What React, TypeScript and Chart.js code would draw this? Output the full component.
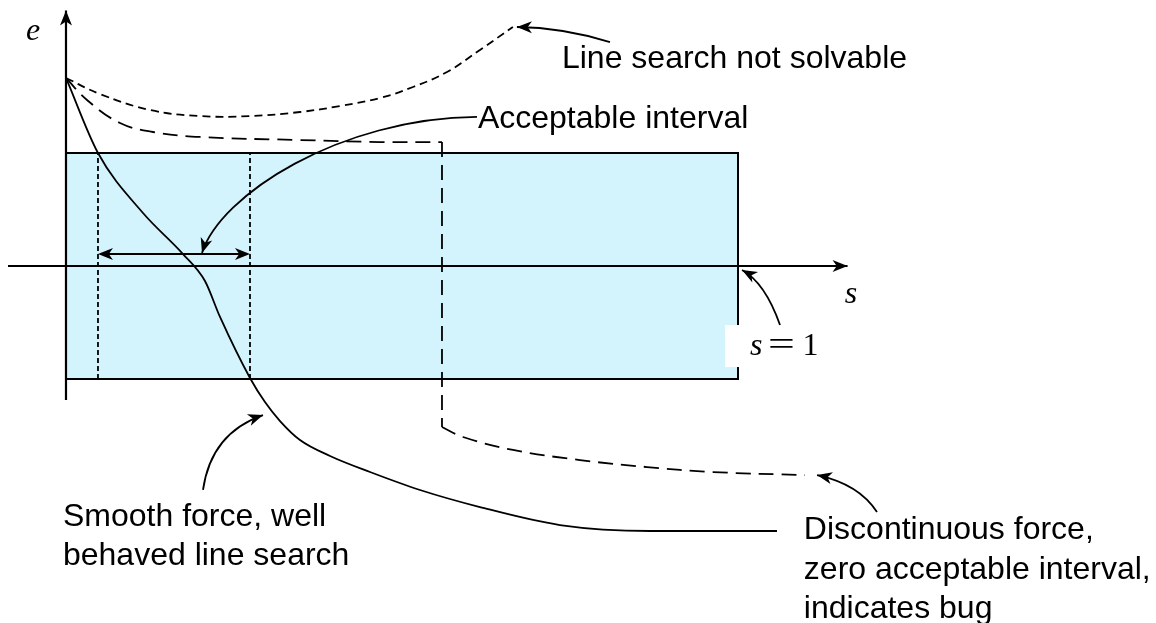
import React, { useEffect, useRef } from "react";
import { Chart, registerables } from "chart.js";

Chart.register(...registerables);

// ---- value ranges of the two axes (s = step length, e = energy) ----
const sBounds = [-0.0982, 1.622];
const eBounds = [-3.159, 2.354];

// ---- axes drawn as arrows ----
const sAxisS = [-0.0863, 1.163];
const sAxisE = [0, 0];
const eAxisS = [0, 0];
const eAxisE = [-1.186, 2.26];

// ---- acceptable region (rectangle) ----
const boxS = [0, 0, 1, 1, 0];
const boxE = [-1, 1, 1, -1, -1];
const boxFillS = [0, 1];
const boxFillE = [1, 1];
const boxFloor = -1;

// ---- acceptable interval bounds ----
const intervalLow = 0.0476;
const intervalHigh = 0.2738;
const intervalLevel = 0.106;

// ---- smooth force curve (solid) ----
const smoothS = [0, 0.0476, 0.1146, 0.1741, 0.2068, 0.2292, 0.2738, 0.2961, 0.3185, 0.3482, 0.3929, 0.4524, 0.5268, 0.616, 0.735, 0.869, 1.058];
const smoothE = [1.664, 1.0, 0.469, 0.106, -0.133, -0.451, -0.991, -1.204, -1.372, -1.54, -1.681, -1.823, -1.982, -2.133, -2.292, -2.345, -2.345];

// ---- line search not solvable (short dashes) ----
const unsolvS = [0, 0.0506, 0.125, 0.1994, 0.2738, 0.3482, 0.4077, 0.4673, 0.5164, 0.567, 0.616, 0.665];
const unsolvE = [1.664, 1.522, 1.381, 1.327, 1.327, 1.363, 1.416, 1.487, 1.584, 1.717, 1.912, 2.115];

// ---- discontinuous force (long dashes) ----
const discUpperS = [0, 0.03125, 0.0804, 0.1295, 0.1994, 0.3482, 0.4673, 0.5595];
const discUpperE = [1.664, 1.469, 1.265, 1.186, 1.142, 1.115, 1.097, 1.097];
const discJumpS = [0.5595, 0.5595];
const discJumpE = [1.097, -1.425];
const discLowerS = [0.5595, 0.5908, 0.6652, 0.7649, 0.8646, 0.9628, 1.0997];
const discLowerE = [-1.425, -1.513, -1.628, -1.717, -1.779, -1.823, -1.85];

// ---- labels ----
const labelUnsolvable = ["Line search not solvable"];
const labelAcceptable = ["Acceptable interval"];
const labelSmooth = ["Smooth force, well", "behaved line search"];
const labelDisc = ["Discontinuous force,", "zero acceptable interval,", "indicates bug"];
const labelSAxis = "s";
const labelEAxis = "e";
const labelSOne = ["s", "=", "1"];

const pts = (xs: number[], ys: number[]) => xs.map((x, i) => ({ x, y: ys[i] }));

const SANS = '"Liberation Sans", Arial, Helvetica, sans-serif';
const SERIF = '"Liberation Serif", "Times New Roman", serif';

function head(ctx: CanvasRenderingContext2D, tx: number, ty: number, ang: number, len = 14, hw = 5.5) {
  ctx.save();
  ctx.translate(tx, ty);
  ctx.rotate(ang);
  ctx.beginPath();
  ctx.moveTo(0, 0);
  ctx.lineTo(-len, -hw);
  ctx.lineTo(-len * 0.72, 0);
  ctx.lineTo(-len, hw);
  ctx.closePath();
  ctx.fill();
  ctx.restore();
}

const annotations = {
  id: "annotations",
  afterDatasetsDraw(chart: any) {
    const { ctx } = chart;
    const xs = chart.scales.x;
    const ys = chart.scales.y;
    const X = (v: number) => xs.getPixelForValue(v);
    const Y = (v: number) => ys.getPixelForValue(v);
    ctx.save();
    ctx.fillStyle = "#000";
    ctx.strokeStyle = "#000";

    // axis arrow heads
    head(ctx, X(sAxisS[1]), Y(0), 0, 15, 6);
    head(ctx, X(0), Y(eAxisE[1]), -Math.PI / 2, 15, 6);

    // double arrow for acceptable interval
    ctx.lineWidth = 2;
    ctx.beginPath();
    ctx.moveTo(X(intervalLow) + 6, Y(intervalLevel));
    ctx.lineTo(X(intervalHigh) - 6, Y(intervalLevel));
    ctx.stroke();
    head(ctx, X(intervalLow), Y(intervalLevel), Math.PI, 15, 6);
    head(ctx, X(intervalHigh), Y(intervalLevel), 0, 15, 6);

    // white box behind "s = 1"
    ctx.fillStyle = "#fff";
    ctx.fillRect(X(0.9807), Y(-0.522), X(1.125) - X(0.9807), Y(-0.894) - Y(-0.522));
    ctx.fillStyle = "#000";

    // quadratic annotation arrows: [tail, control, tip]
    const quad = (p: number[][]) => {
      const [a, c, b] = p.map(([s, e]) => [X(s), Y(e)]);
      ctx.lineWidth = 1.8;
      ctx.beginPath();
      ctx.moveTo(a[0], a[1]);
      ctx.quadraticCurveTo(c[0], c[1], b[0], b[1]);
      ctx.stroke();
      head(ctx, b[0], b[1], Math.atan2(b[1] - c[1], b[0] - c[0]), 15, 6);
    };
    quad([[0.8095, 1.982], [0.738, 2.111], [0.671, 2.115]]);
    quad([[1.0625, -0.522], [1.0402, -0.146], [1.006, -0.035]]);
    quad([[0.2039, -1.982], [0.2158, -1.478], [0.2932, -1.319]]);
    quad([[1.2068, -2.177], [1.18, -1.929], [1.1176, -1.85]]);

    // cubic arrow for acceptable interval
    {
      const p = [[0.6116, 1.319], [0.4077, 1.31], [0.2292, 0.628], [0.2024, 0.115]].map(([s, e]) => [X(s), Y(e)]);
      ctx.lineWidth = 1.8;
      ctx.beginPath();
      ctx.moveTo(p[0][0], p[0][1]);
      ctx.bezierCurveTo(p[1][0], p[1][1], p[2][0], p[2][1], p[3][0], p[3][1]);
      ctx.stroke();
      head(ctx, p[3][0], p[3][1], Math.atan2(p[3][1] - p[2][1], p[3][0] - p[2][0]), 15, 6);
    }

    // sans labels
    ctx.font = `32px ${SANS}`;
    ctx.textAlign = "left";
    ctx.textBaseline = "alphabetic";
    const lines = (arr: string[], s: number, e0: number, de: number) =>
      arr.forEach((t, i) => ctx.fillText(t, X(s), Y(e0 - i * de)));
    lines(labelUnsolvable, 0.738, 1.752, 0);
    lines(labelAcceptable, 0.613, 1.221, 0);
    lines(labelSmooth, -0.0045, -2.301, 0.345);
    lines(labelDisc, 1.098, -2.416, 0.35);

    // math labels
    ctx.font = `italic 32px ${SERIF}`;
    ctx.textAlign = "center";
    ctx.fillText(labelSAxis, X(1.168), Y(-0.33));
    ctx.fillText(labelEAxis, X(-0.049), Y(2.0));
    ctx.textAlign = "left";
    ctx.fillText(labelSOne[0], X(1.018), Y(-0.788));
    ctx.save();
    ctx.translate(X(1.0447), Y(-0.79));
    ctx.scale(1.4, 1);
    ctx.font = `34px ${SERIF}`;
    ctx.fillText(labelSOne[1], 0, 0);
    ctx.restore();
    ctx.font = `32px ${SERIF}`;
    ctx.fillText(labelSOne[2], X(1.096), Y(-0.788));
    ctx.restore();
  },
};

export default function App() {
  const ref = useRef<HTMLCanvasElement>(null);
  useEffect(() => {
    if (!ref.current) return;
    const black = "#000";
    const line = (data: any[], extra: any = {}) => ({
      data,
      showLine: true,
      borderColor: black,
      borderWidth: 1.8,
      pointRadius: 0,
      tension: 0,
      fill: false,
      ...extra,
    });
    const chart = new Chart(ref.current, {
      type: "scatter",
      data: {
        datasets: [
          line(pts(sAxisS, sAxisE), { borderWidth: 2, order: 1 }),
          line(pts(eAxisS, eAxisE), { borderWidth: 2.2, order: 1 }),
          line(pts(smoothS, smoothE), { cubicInterpolationMode: "monotone", order: 2 }),
          line(pts(unsolvS, unsolvE), { tension: 0.4, borderDash: [8, 5], order: 2 }),
          line(pts(discUpperS, discUpperE), { tension: 0.4, borderDash: [15, 8], order: 2 }),
          line(pts(discJumpS, discJumpE), { borderDash: [15, 8], order: 2 }),
          line(pts(discLowerS, discLowerE), { tension: 0.4, borderDash: [15, 8], order: 2 }),
          line(pts([intervalLow, intervalLow], [-1, 1]), { borderDash: [5, 3], order: 3 }),
          line(pts([intervalHigh, intervalHigh], [-1, 1]), { borderDash: [5, 3], order: 3 }),
          line(pts(boxS, boxE), { borderWidth: 2, order: 4 }),
          line(pts(boxFillS, boxFillE), {
            borderWidth: 0,
            fill: { value: boxFloor },
            backgroundColor: "#d4f4fd",
            order: 5,
          }),
        ],
      },
      options: {
        animation: false,
        responsive: false,
        maintainAspectRatio: false,
        layout: { padding: 0 },
        plugins: { legend: { display: false }, tooltip: { enabled: false } },
        events: [],
        scales: {
          x: { type: "linear", min: sBounds[0], max: sBounds[1], display: false },
          y: { type: "linear", min: eBounds[0], max: eBounds[1], display: false },
        },
      },
      plugins: [annotations],
    });
    return () => chart.destroy();
  }, []);
  return (
    <div style={{ position: "absolute", left: 0, top: 0, width: 1156, height: 623, background: "#fff" }}>
      <canvas ref={ref} width={1156} height={623} style={{ width: 1156, height: 623 }} />
    </div>
  );
}
